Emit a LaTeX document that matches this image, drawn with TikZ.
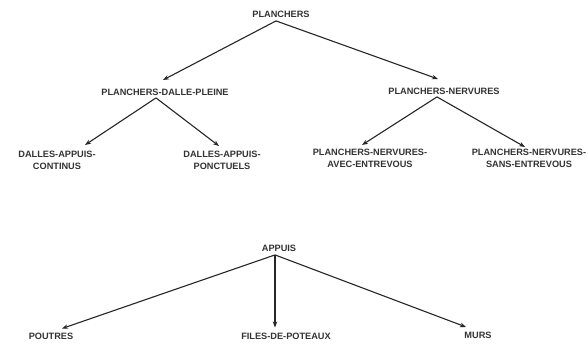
\documentclass[tikz,border=0pt]{standalone}
\usepackage{fontspec}
\setmainfont{Liberation Sans}
\usetikzlibrary{arrows.meta}
\begin{document}
\begin{tikzpicture}[x=1pt,y=-1pt,
  lbl/.style={anchor=north,inner sep=0pt,align=center,text=black!80,
    font=\fontsize{9.2}{12}\selectfont\bfseries},
  arr/.style={draw=black!85,line width=1.1pt,-{Stealth[length=6pt,width=4.5pt]}}]
\useasboundingbox[fill=white] (0,0) rectangle (588,345);
% top tree
\node[lbl] (pl)   at (281,10.5) {PLANCHERS};
\node[lbl] (pdp)  at (165,88.5) {PLANCHERS-DALLE-PLEINE};
\node[lbl] (pn)   at (444,87.5) {PLANCHERS-NERVURES};
\node[lbl] (dac)  at (57,151)   {DALLES-APPUIS-\\CONTINUS};
\node[lbl] (dap)  at (222,151)  {DALLES-APPUIS-\\PONCTUELS};
\node[lbl] (pnav) at (370,149)  {PLANCHERS-NERVURES-\\AVEC-ENTREVOUS};
\node[lbl] (pnsa) at (529,149)  {PLANCHERS-NERVURES-\\SANS-ENTREVOUS};
% bottom tree
\node[lbl] (ap)   at (279,244.5) {APPUIS};
\node[lbl] (pou)  at (51,333)    {POUTRES};
\node[lbl] (fil)  at (286,332.5) {FILES-DE-POTEAUX};
\node[lbl] (mur)  at (478,331.5) {MURS};
% connectors
\draw[arr] ([xshift=-5pt,yshift=-3.5pt]pl.south) -- ([xshift=-2pt,yshift=8.5pt]pdp.north);
\draw[arr] ([xshift=-5pt,yshift=-3.5pt]pl.south) -- ([xshift=-6pt,yshift=8.5pt]pn.north);
\draw[arr] ([xshift=-9pt,yshift=-2.5pt]pdp.south) -- ([xshift=28pt,yshift=6pt]dac.north);
\draw[arr] ([xshift=-9pt,yshift=-2.5pt]pdp.south) -- ([xshift=-3pt,yshift=5pt]dap.north);
\draw[arr] ([xshift=-7pt,yshift=-2.5pt]pn.south) -- ([xshift=-8pt,yshift=4pt]pnav.north);
\draw[arr] ([xshift=-7pt,yshift=-2.5pt]pn.south) -- ([xshift=-4pt,yshift=2pt]pnsa.north);
\draw[arr] ([xshift=-4pt,yshift=-3.5pt]ap.south) -- ([xshift=11pt,yshift=4.5pt]pou.north);
\draw[arr] ([xshift=-4pt,yshift=-3.5pt]ap.south) -- ([xshift=-11pt,yshift=5pt]fil.north);
\draw[arr] ([xshift=-4pt,yshift=-3.5pt]ap.south) -- ([xshift=-12pt,yshift=4.5pt]mur.north);
\end{tikzpicture}
\end{document}
